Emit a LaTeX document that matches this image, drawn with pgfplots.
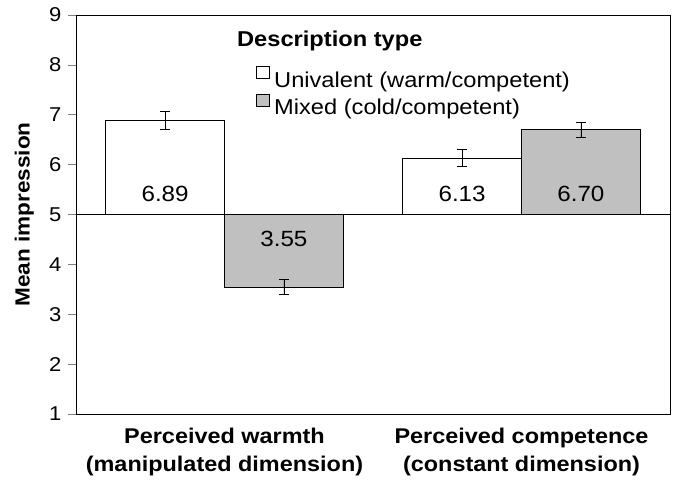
\documentclass[border=0pt]{standalone}
\usepackage{pgfplots}
\pgfplotsset{compat=1.18}
\usepackage{fontspec}
\setmainfont{Liberation Sans}[FakeStretch=1.1]
\definecolor{mixgray}{RGB}{192,192,192}
\begin{document}
\begin{tikzpicture}
\begin{axis}[
  name=ax,
  scale only axis, width=594pt, height=399pt,
  axis line style={line width=0.6pt},
  xmin=-0.5, xmax=1.5, ymin=1, ymax=9,
  y coord trafo/.code={\pgfmathparse{#1-5}},
  y coord inv trafo/.code={\pgfmathparse{#1+5}},
  ytick={1,2,3,4,5,6,7,8,9},
  yticklabel style={/pgf/number format/assume math mode=true, font=\fontsize{20}{22}\selectfont, xshift=-3pt},
  ytick pos=left, tick align=outside, major tick length=8pt,
  major tick style={line width=0.6pt},
  xtick={0,1}, xtick style={draw=none},
  xticklabels={{Perceived warmth\\(manipulated dimension)},{Perceived competence\\(constant dimension)}},
  xticklabel style={align=center, font=\bfseries\fontsize{21.3}{28}\selectfont, yshift=-3pt},
  ylabel={Mean impression},
  ylabel style={font=\bfseries\fontsize{20.5}{24}\selectfont, at={(axis description cs:-0.087,0.5)}, anchor=center},
  ybar, bar width=0.4, bar shift=0pt,
  legend style={at={(rel axis cs:0.303,0.872)}, anchor=north west, draw=none, fill=none,
    font=\fontsize{21.5}{24}\selectfont, row sep=5pt, inner sep=0pt, nodes={inner sep=0pt},
    /tikz/every odd column/.append style={column sep=5pt}},
  legend cell align=left,
  legend image code/.code={\draw[#1, line width=0.5pt] (0pt,1.5pt) rectangle (12.5pt,13.5pt);},
]
\draw[line width=0.6pt] (rel axis cs:0,0.5) -- (rel axis cs:1,0.5);
\addplot+[draw=black, fill=white, mark=none, line width=0.5pt,
  error bars/.cd, y dir=both, y explicit, error bar style={black, line width=0.5pt}, error mark options={rotate=90, mark size=5pt, black, line width=0.5pt}]
  coordinates {(-0.2,6.89) +- (0,0.18) (0.8,6.13) +- (0,0.17)};
\addlegendentry{Univalent (warm/competent)}
\addplot+[draw=black, fill=mixgray, mark=none, line width=0.5pt,
  error bars/.cd, y dir=both, y explicit, error bar style={black, line width=0.5pt}, error mark options={rotate=90, mark size=5pt, black, line width=0.5pt}]
  coordinates {(0.2,3.55) +- (0,0.15) (1.2,6.70) +- (0,0.15)};
\addlegendentry{Mixed (cold/competent)}
\node[anchor=base, font=\fontsize{22}{24}\selectfont] at (axis cs:-0.2,5.265) {6.89};
\node[anchor=base, font=\fontsize{22}{24}\selectfont] at (axis cs:0.2,4.35) {3.55};
\node[anchor=base, font=\fontsize{22}{24}\selectfont] at (axis cs:0.8,5.265) {6.13};
\node[anchor=base, font=\fontsize{22}{24}\selectfont] at (axis cs:1.2,5.265) {6.70};
\node[anchor=base west, inner sep=0pt, font=\bfseries\fontsize{21.5}{24}\selectfont] at (rel axis cs:0.271,0.92) {Description type};
\end{axis}
\pgfresetboundingbox
\path ([shift={(-76pt,-75pt)}]ax.south west) rectangle ([shift={(6pt,15pt)}]ax.north east);
\end{tikzpicture}
\end{document}
